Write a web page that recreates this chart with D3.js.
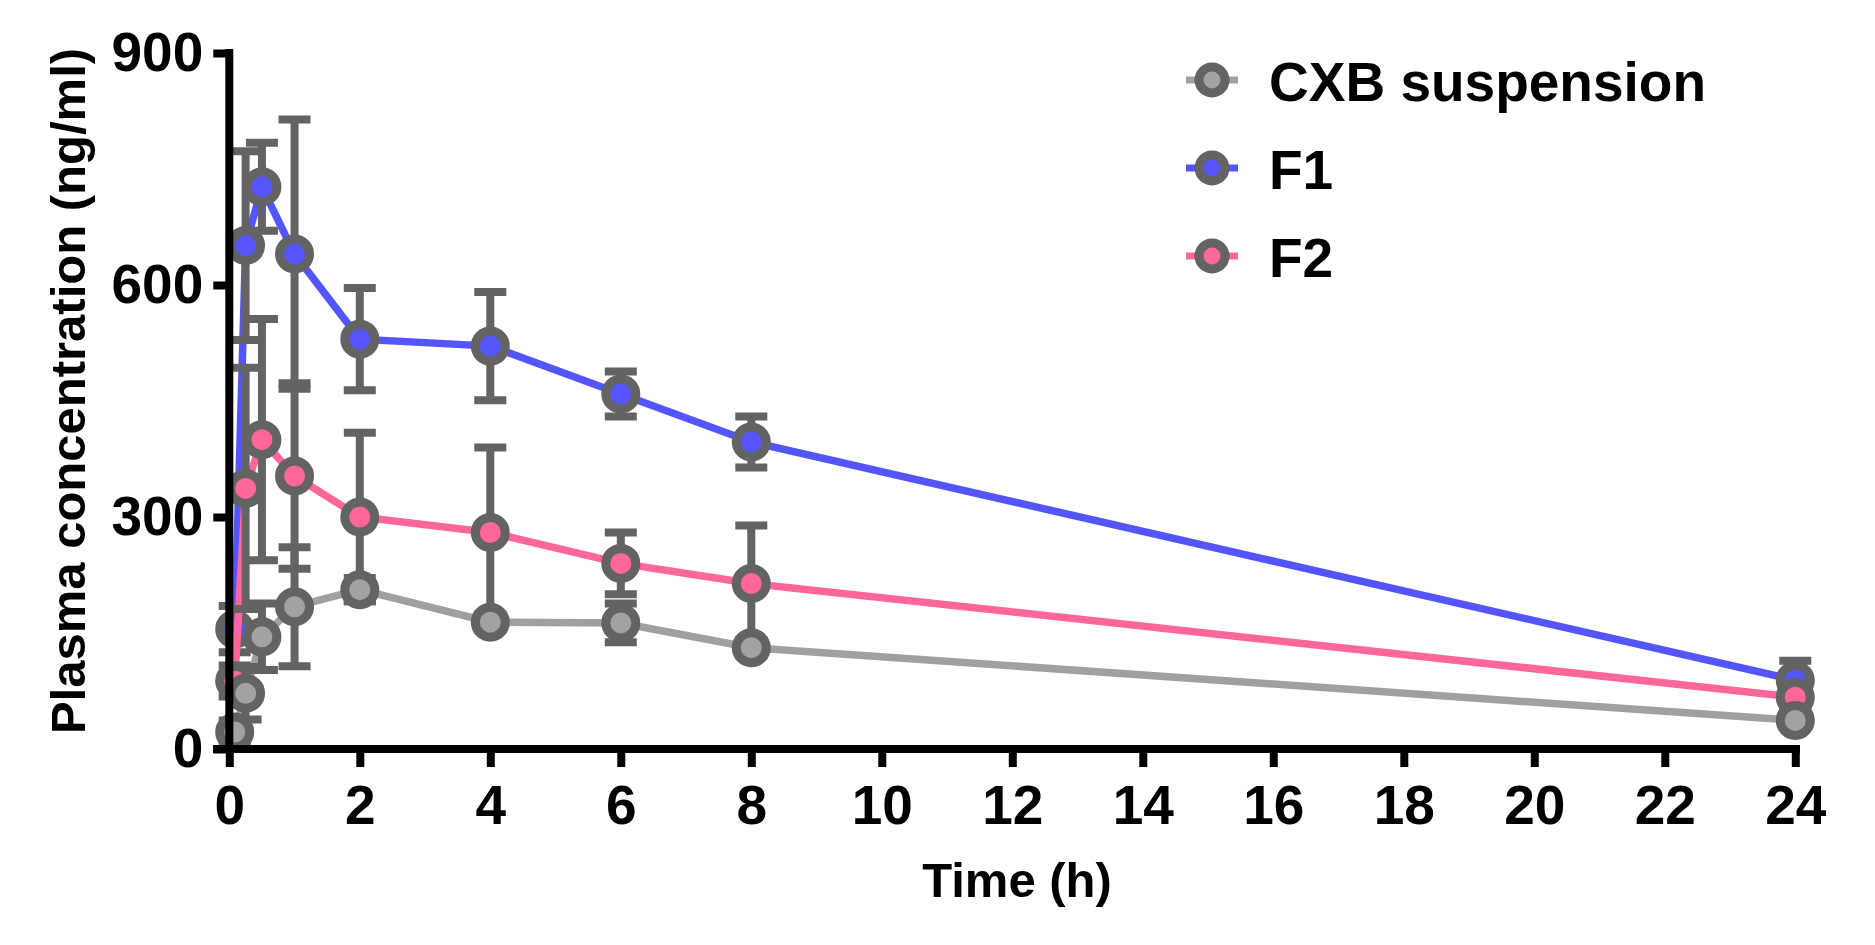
<!DOCTYPE html>
<html>
<head>
<meta charset="utf-8">
<script src="https://cdn.jsdelivr.net/npm/d3@7"></script>
<style>
  body { margin: 0; background: #fff; }
  svg { display: block; font-family: "Liberation Sans", Arial, sans-serif; font-weight: bold; }
</style>
</head>
<body>
<div id="chart"></div>
<script>
// Sampling times (h)
const times = [0.083, 0.25, 0.5, 1, 2, 4, 6, 8, 24];

// Mean plasma concentration (ng/ml) and SD per formulation
const cxbMean = [22, 72, 145, 184, 206, 164, 163, 131, 37];
const cxbSd   = [15, 34, 43, 77, 15, 10, 25, 10, 8];
const f1Mean  = [155, 651, 727, 640, 530, 521, 459, 397, 89];
const f1Sd    = [30, 122, 57, 174, 66, 70, 29, 33, 25];
const f2Mean  = [88, 337, 400, 353, 300, 280, 240, 214, 67];
const f2Sd    = [20, 156, 156, 120, 109, 110, 40, 75, 12];

const seriesNames = ["CXB suspension", "F1", "F2"];
const xTicks = d3.range(0, 25, 2);
const yTicks = [0, 300, 600, 900];

const colors = {
    "CXB suspension": { line: "#a0a0a4", fill: "#a2a2a5" },
    "F1": { line: "#5555ff", fill: "#5555ff" },
    "F2": { line: "#ff6699", fill: "#ff6699" }
};
const dark = "#636363";

const series = [
    { name: "CXB suspension", mean: cxbMean, sd: cxbSd },
    { name: "F1", mean: f1Mean, sd: f1Sd },
    { name: "F2", mean: f2Mean, sd: f2Sd }
].map(s => ({
    name: s.name,
    values: times.map((t, i) => ({ t: t, m: s.mean[i], sd: s.sd[i] }))
}));

const width = 1875, height = 945;

const svg = d3.select("#chart")
    .append("svg")
    .attr("width", width)
    .attr("height", height);

svg.append("rect").attr("width", width).attr("height", height).attr("fill", "#fff");

// Scales
const x = d3.scaleLinear().domain([0, 24]).range([229.3, 1795.3]);
const y = d3.scaleLinear().domain([0, 900]).range([749, 53]);

// Draw order: blue, pink, grey (grey symbols end up on top)
const drawOrder = ["F1", "F2", "CXB suspension"];

const line = d3.line().x(d => x(d.t)).y(d => y(d.m));

drawOrder.forEach(name => {
    const s = series.find(d => d.name === name);
    const g = svg.append("g");

    g.append("path")
        .datum(s.values)
        .attr("fill", "none")
        .attr("stroke", colors[name].line)
        .attr("stroke-width", 7.5)
        .attr("d", line);

    // Error bars
    const eb = g.selectAll(".err")
        .data(s.values)
        .enter()
        .append("g");
    eb.append("line")
        .attr("x1", d => x(d.t)).attr("x2", d => x(d.t))
        .attr("y1", d => y(d.m - d.sd)).attr("y2", d => y(d.m + d.sd))
        .attr("stroke", dark).attr("stroke-width", 8);
    [-1, 1].forEach(sign => {
        eb.append("line")
            .attr("x1", d => x(d.t) - 16).attr("x2", d => x(d.t) + 16)
            .attr("y1", d => y(d.m + sign * d.sd)).attr("y2", d => y(d.m + sign * d.sd))
            .attr("stroke", dark).attr("stroke-width", 8);
    });

    // Symbols
    g.selectAll("circle")
        .data(s.values)
        .enter()
        .append("circle")
        .attr("cx", d => x(d.t))
        .attr("cy", d => y(d.m))
        .attr("r", 15)
        .attr("fill", colors[name].fill)
        .attr("stroke", dark)
        .attr("stroke-width", 9);
});

// X axis
const xAxis = svg.append("g")
    .attr("transform", "translate(0,749)")
    .call(d3.axisBottom(x).tickValues(xTicks).tickSize(18).tickSizeOuter(0).tickPadding(18));
xAxis.select(".domain").remove();
xAxis.append("line")
    .attr("x1", 213).attr("x2", 1800)
    .attr("stroke", "#000").attr("stroke-width", 8);
xAxis.selectAll(".tick line").attr("stroke", "#000").attr("stroke-width", 8);
xAxis.selectAll("text")
    .attr("fill", "#000")
    .style("font-size", "55px")
    .style("font-weight", "bold");

// Y axis
const yAxis = svg.append("g")
    .attr("transform", "translate(229.3,0)")
    .call(d3.axisLeft(y).tickValues(yTicks).tickSize(16).tickSizeOuter(0).tickPadding(10));
yAxis.select(".domain").remove();
yAxis.append("line")
    .attr("y1", 49).attr("y2", 753)
    .attr("stroke", "#000").attr("stroke-width", 8);
yAxis.selectAll(".tick line").attr("stroke", "#000").attr("stroke-width", 8);
yAxis.selectAll("text")
    .attr("fill", "#000")
    .style("font-size", "55px")
    .style("font-weight", "bold");

// Axis titles
svg.append("text")
    .attr("x", 1017)
    .attr("y", 897)
    .attr("text-anchor", "middle")
    .style("font-size", "49px")
    .text("Time (h)");

svg.append("text")
    .attr("transform", "rotate(-90)")
    .attr("x", -391)
    .attr("y", 85)
    .attr("text-anchor", "middle")
    .style("font-size", "49px")
    .text("Plasma concentration (ng/ml)");

// Legend
const legend = svg.append("g");
const legendY = [80, 168, 256];
seriesNames.forEach((name, i) => {
    const row = legend.append("g").attr("transform", `translate(0,${legendY[i]})`);
    row.append("line")
        .attr("x1", 1186).attr("x2", 1238)
        .attr("stroke", colors[name].line).attr("stroke-width", 7);
    row.append("circle")
        .attr("cx", 1212).attr("cy", 0).attr("r", 13)
        .attr("fill", colors[name].fill)
        .attr("stroke", dark).attr("stroke-width", 9);
    row.append("text")
        .attr("x", 1269)
        .attr("y", 21)
        .style("font-size", "55px")
        .text(name);
});
</script>
</body>
</html>
